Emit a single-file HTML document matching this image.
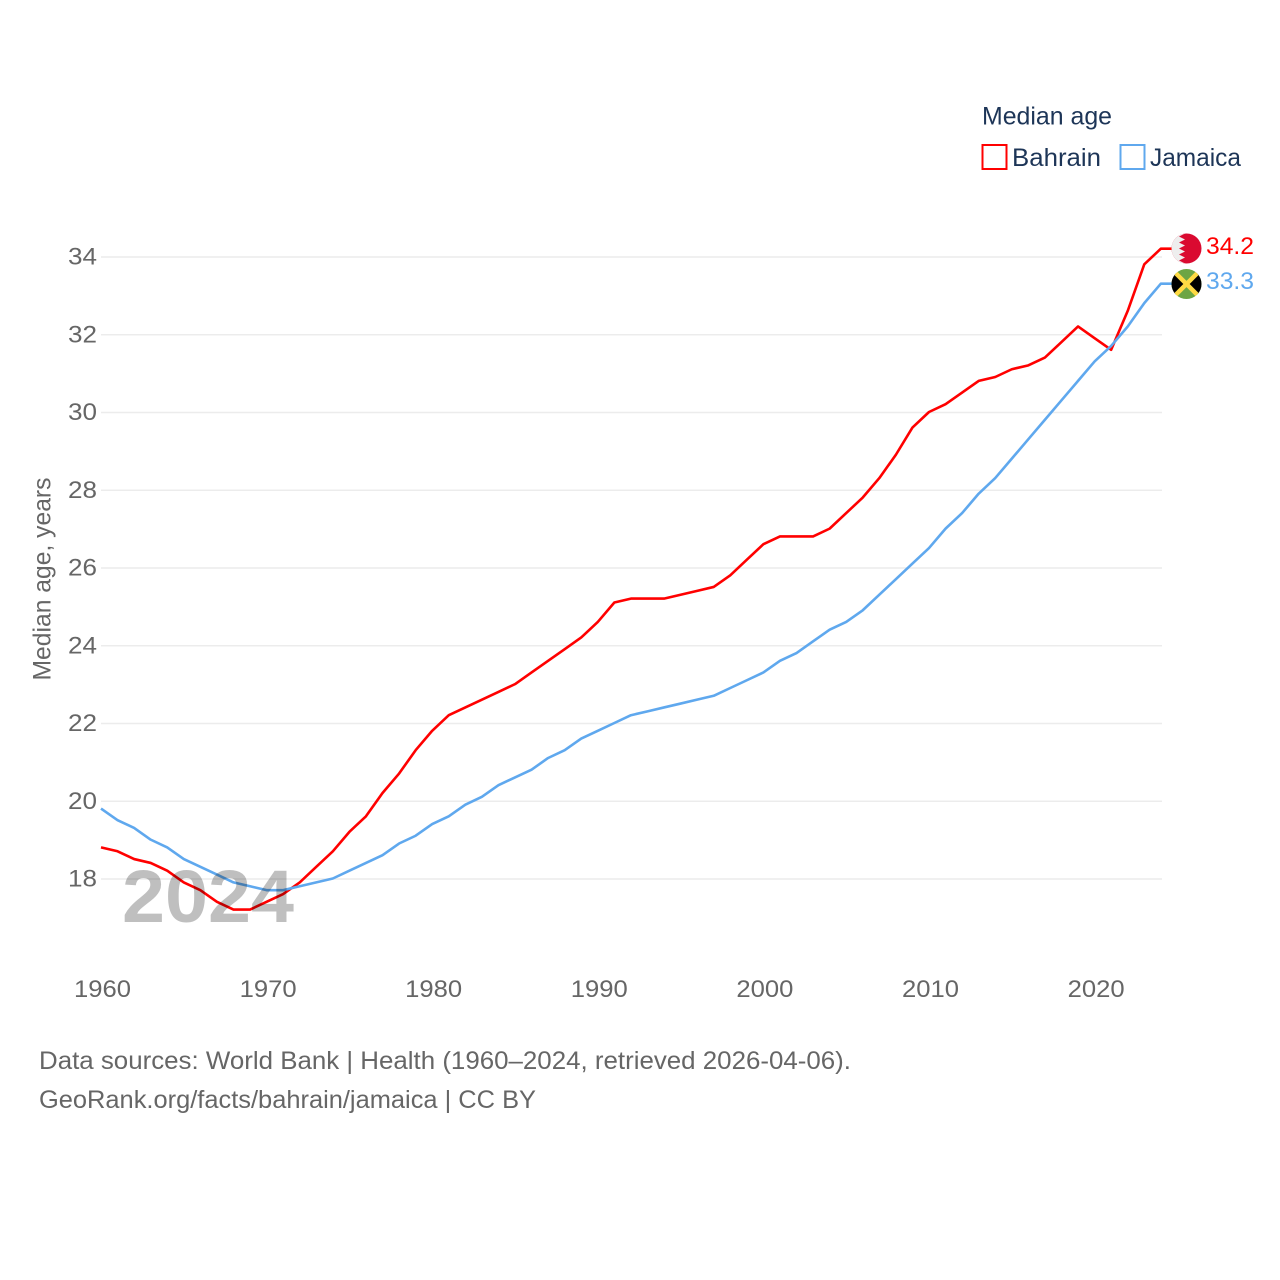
<!DOCTYPE html>
<html>
<head>
<meta charset="utf-8">
<title>Median age: Bahrain and Jamaica</title>
<style>
html,body{margin:0;padding:0;background:#fff;}
svg{display:block;font-family:"Liberation Sans",sans-serif;}
</style>
</head>
<body>
<svg id="chart" width="1280" height="1280" viewBox="0 0 1280 1280" xmlns="http://www.w3.org/2000/svg">
  <defs>
    <clipPath id="clip-bh"><circle cx="1186.5" cy="248.5" r="15"/></clipPath>
    <clipPath id="clip-jm"><circle cx="1186.5" cy="284" r="15"/></clipPath>
  </defs>
  <g id="grid"></g>
  <g id="ylabels"></g>
  <g id="xlabels"></g>
  <text transform="translate(50.5,579) rotate(-90)" text-anchor="middle" font-size="25" fill="#666" textLength="203" lengthAdjust="spacingAndGlyphs">Median age, years</text>
  <g id="series"></g>
  <text x="122" y="922" font-size="74" font-weight="700" fill="#000" fill-opacity="0.25" textLength="172" lengthAdjust="spacingAndGlyphs">2024</text>

  <g clip-path="url(#clip-bh)">
    <rect x="1170" y="232" width="34" height="34" fill="#da0a30"/>
    <polygon fill="#eeeeee" points="1170,232 1178,232 1185,233.5 1179,236.5 1185,239.5 1179,242.5 1185,245.5 1179,248.5 1185,251.5 1179,254.5 1185,257.5 1179,260.5 1185,263.5 1178,266 1170,266"/>
  </g>
  <g clip-path="url(#clip-jm)">
    <rect x="1170" y="268" width="34" height="32" fill="#6da544"/>
    <polygon fill="#000" points="1171,269 1186.5,284 1171,299"/>
    <polygon fill="#000" points="1202,269 1186.5,284 1202,299"/>
    <line x1="1171" y1="268.5" x2="1202" y2="299.5" stroke="#ffda44" stroke-width="4.5"/>
    <line x1="1202" y1="268.5" x2="1171" y2="299.5" stroke="#ffda44" stroke-width="4.5"/>
  </g>

  <text x="1206" y="254" font-size="24" fill="#ff0000" textLength="48" lengthAdjust="spacingAndGlyphs">34.2</text>
  <text x="1206" y="289" font-size="24" fill="#5fa8ee" textLength="48" lengthAdjust="spacingAndGlyphs">33.3</text>

  <g>
    <text x="982" y="124.5" font-size="25" fill="#1d3557" textLength="130" lengthAdjust="spacingAndGlyphs">Median age</text>
    <rect x="982.5" y="145" width="24" height="24" fill="#fff" stroke="#ff0000" stroke-width="2"/>
    <text x="1012" y="166" font-size="25" fill="#1d3557" textLength="89" lengthAdjust="spacingAndGlyphs">Bahrain</text>
    <rect x="1120.5" y="145" width="24" height="24" fill="#fff" stroke="#5fa8ee" stroke-width="2"/>
    <text x="1150" y="166" font-size="25" fill="#1d3557" textLength="91" lengthAdjust="spacingAndGlyphs">Jamaica</text>
  </g>

  <text x="39" y="1069" font-size="25" fill="#666" textLength="812" lengthAdjust="spacingAndGlyphs">Data sources: World Bank | Health (1960–2024, retrieved 2026-04-06).</text>
  <text x="39" y="1108" font-size="25" fill="#666" textLength="497" lengthAdjust="spacingAndGlyphs">GeoRank.org/facts/bahrain/jamaica | CC BY</text>
</svg>
<script>
const startYear = 1960;
const yTicks = [18, 20, 22, 24, 26, 28, 30, 32, 34];
const xTicks = [1960, 1970, 1980, 1990, 2000, 2010, 2020];
const bahrain = [18.8,18.7,18.5,18.4,18.2,17.9,17.7,17.4,17.2,17.2,17.4,17.6,17.9,18.3,18.7,19.2,19.6,20.2,20.7,21.3,21.8,22.2,22.4,22.6,22.8,23.0,23.3,23.6,23.9,24.2,24.6,25.1,25.2,25.2,25.2,25.3,25.4,25.5,25.8,26.2,26.6,26.8,26.8,26.8,27.0,27.4,27.8,28.3,28.9,29.6,30.0,30.2,30.5,30.8,30.9,31.1,31.2,31.4,31.8,32.2,31.9,31.6,32.6,33.8,34.2];
const jamaica = [19.8,19.5,19.3,19.0,18.8,18.5,18.3,18.1,17.9,17.8,17.7,17.7,17.8,17.9,18.0,18.2,18.4,18.6,18.9,19.1,19.4,19.6,19.9,20.1,20.4,20.6,20.8,21.1,21.3,21.6,21.8,22.0,22.2,22.3,22.4,22.5,22.6,22.7,22.9,23.1,23.3,23.6,23.8,24.1,24.4,24.6,24.9,25.3,25.7,26.1,26.5,27.0,27.4,27.9,28.3,28.8,29.3,29.8,30.3,30.8,31.3,31.7,32.2,32.8,33.3];

const NS = 'http://www.w3.org/2000/svg';
function xPos(year) { return 101 + (year - 1960) * 16.56; }
function yPos(v) { return 879 - (v - 18) * 38.875; }
function make(tag, attrs, parent) {
  const el = document.createElementNS(NS, tag);
  for (const k in attrs) el.setAttribute(k, attrs[k]);
  parent.appendChild(el);
  return el;
}
const grid = document.getElementById('grid');
const ylabels = document.getElementById('ylabels');
const xlabels = document.getElementById('xlabels');
const series = document.getElementById('series');

yTicks.forEach(function (t) {
  const line = make('line', {x1: 101, x2: 1162, y1: yPos(t), y2: yPos(t), stroke: '#ececec', 'stroke-width': 1.5}, grid);
  
  
  const label = make('text', {x: 97, y: yPos(t) + 7.5, 'text-anchor': 'end', 'font-size': 24.5, fill: '#666', textLength: 29, lengthAdjust: 'spacingAndGlyphs'}, ylabels);
  
  
  label.textContent = t;
});
xTicks.forEach(function (t) {
  const label = make('text', {x: xPos(t) + 1.5, y: 997, 'text-anchor': 'middle', 'font-size': 24.5, fill: '#666', textLength: 57, lengthAdjust: 'spacingAndGlyphs'}, xlabels);
  
  
  label.textContent = t;
});
function drawLine(values, color, name) {
  const pts = values.map(function (v, i) { return xPos(startYear + i).toFixed(2) + ',' + (yPos(v) - 0.5).toFixed(2); });
  const last = values[values.length - 1];
  pts.push('1172,' + (yPos(last) - 0.5).toFixed(2));
  const poly = make('polyline', {points: pts.join(' '), fill: 'none', stroke: color, 'stroke-width': 2.6, 'stroke-linejoin': 'round'}, series);
  
  
}
drawLine(bahrain, '#ff0000', 'bahrain-line');
drawLine(jamaica, '#5fa8ee', 'jamaica-line');
</script>
</body>
</html>
